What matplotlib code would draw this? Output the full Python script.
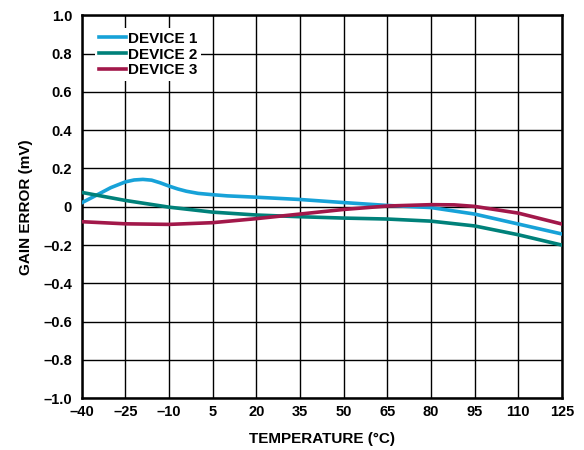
import matplotlib.pyplot as plt
from matplotlib.ticker import FixedLocator

# temperatures (deg C) and gain error (mV)
temp1 = [-40, -35, -30, -25, -22, -19, -16, -13, -10, -7, -4, 0, 5, 10, 20, 35, 50, 65, 80, 95, 110, 125]
dev1 = [0.021, 0.06, 0.1, 0.13, 0.14, 0.143, 0.139, 0.125, 0.108, 0.093, 0.081, 0.07, 0.063, 0.057, 0.05, 0.038, 0.022, 0.007, -0.004, -0.038, -0.09, -0.142]

temp2 = [-40, -25, -10, 5, 20, 35, 50, 65, 80, 95, 110, 125]
dev2 = [0.075, 0.033, -0.002, -0.028, -0.043, -0.052, -0.059, -0.064, -0.075, -0.1, -0.146, -0.2]

temp3 = [-40, -25, -10, 5, 20, 35, 50, 65, 80, 88, 95, 110, 125]
dev3 = [-0.078, -0.089, -0.092, -0.083, -0.062, -0.038, -0.014, 0.004, 0.011, 0.01, 0.002, -0.033, -0.09]

xticks = list(range(-40, 126, 15))
yticks = [round(-1.0 + 0.2 * i, 1) for i in range(11)]


def fmt(v, dec):
    s = f"{abs(v):.{dec}f}"
    if v < 0:
        return "\u2013" + s
    return s


plt.rcParams['font.family'] = ['Liberation Sans', 'DejaVu Sans']
plt.rcParams['font.weight'] = 'bold'

fig = plt.figure(figsize=(5.84, 4.5), dpi=100)
ax = fig.add_axes([0.14, 0.115, 0.822, 0.851])

ax.plot(temp1, dev1, color='#17a2d8', lw=2.6, label='DEVICE 1', zorder=3)
ax.plot(temp2, dev2, color='#00817a', lw=2.6, label='DEVICE 2', zorder=3)
ax.plot(temp3, dev3, color='#a2184a', lw=2.6, label='DEVICE 3', zorder=3)

ax.set_xlim(-40, 125)
ax.set_ylim(-1.0, 1.0)
ax.xaxis.set_major_locator(FixedLocator(xticks))
ax.yaxis.set_major_locator(FixedLocator(yticks))
ax.set_xticklabels([fmt(t, 0) if t != 0 else "0" for t in xticks])
ax.set_yticklabels(["0" if v == 0 else fmt(v, 1) for v in yticks])
ax.tick_params(length=0, labelsize=10.5)
ax.tick_params(axis='y', pad=7)
ax.tick_params(axis='x', pad=5)
ax.grid(True, color='black', lw=1.0)
ax.set_axisbelow(True)
for sp in ax.spines.values():
    sp.set_linewidth(1.8)

ax.set_xlabel('TEMPERATURE (°C)', fontsize=11, fontweight='bold', labelpad=9)
ax.set_ylabel('GAIN ERROR (mV)', fontsize=11, fontweight='bold', labelpad=7)

leg = ax.legend(loc='upper left', bbox_to_anchor=(0.012, 0.987), frameon=True,
                fontsize=11, handlelength=1.75, handletextpad=0.15,
                labelspacing=0.12, borderpad=0.25, fancybox=False)
leg.get_frame().set_edgecolor('none')
leg.get_frame().set_facecolor('white')
leg.get_frame().set_alpha(1.0)

plt.savefig('out.png', dpi=100)
